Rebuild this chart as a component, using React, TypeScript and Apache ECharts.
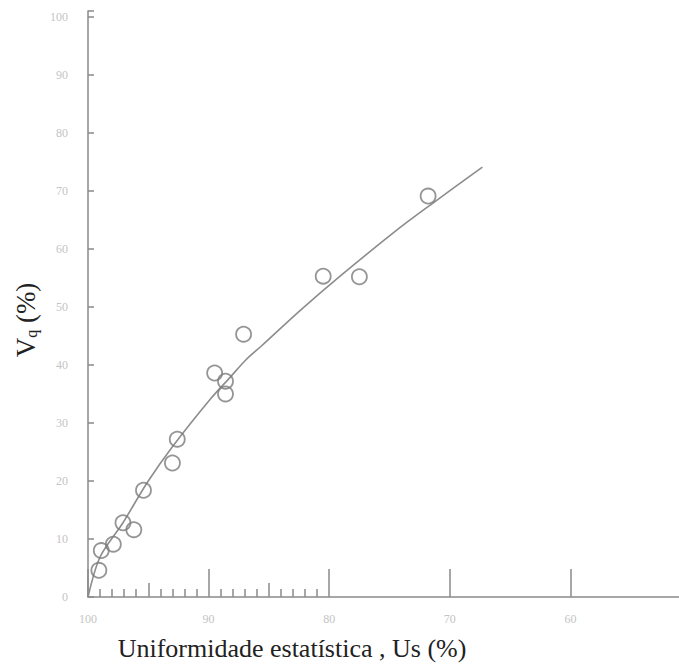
import React, { useEffect, useRef } from "react";
import * as echarts from "echarts";

// Uniformidade estatística (Us, %) -> x ; Vq (%) -> y
const pointUs = [99.1, 98.9, 97.9, 97.1, 96.2, 95.4, 93.0, 92.6, 89.5, 88.6, 88.6, 87.1, 80.5, 77.5, 71.8];
const pointVq = [4.6, 8.0, 9.1, 12.8, 11.6, 18.4, 23.1, 27.2, 38.6, 37.2, 35.0, 45.3, 55.3, 55.2, 69.1];

const curveUs = [100, 99.0, 97.1, 95.1, 93.0, 89.9, 88.2, 86.9, 85.6, 82.4, 79.1, 74.3, 71.4, 67.3];
const curveVq = [0, 6.9, 12.8, 19.7, 25.9, 34.0, 37.9, 40.9, 43.3, 49.4, 55.3, 63.4, 67.9, 74.1];

const xMajorTicks = [100, 90, 80, 70, 60];
const xMediumTicks = [95, 85];
const xMinorTicks = [99, 98, 97, 96, 94, 93, 92, 91, 89, 88, 87, 86, 84, 83, 82, 81];

const xTitle = "Uniformidade estatística , Us (%)";

export default function App() {
  const ref = useRef<HTMLDivElement>(null);
  useEffect(() => {
    document.body.style.margin = "0";
    const chart = echarts.init(ref.current!, null, { renderer: "svg" });
    const serif = "'Liberation Serif', 'DejaVu Serif', serif";
    const axisColor = "#8a8a8a";
    const labelColor = "#c4c4c4";
    const baseX = {
      type: "value",
      min: 51,
      max: 100,
      inverse: true,
      position: "bottom",
      splitLine: { show: false },
    };
    chart.setOption({
      animation: false,
      backgroundColor: "#ffffff",
      grid: { left: 88, right: 0, top: 11, bottom: 68 },
      xAxis: [
        {
          ...baseX,
          axisLine: { show: true, lineStyle: { color: axisColor, width: 1.5 } },
          axisTick: {
            show: true,
            inside: true,
            length: 28,
            customValues: xMajorTicks,
            lineStyle: { color: axisColor, width: 1.5 },
          },
          axisLabel: {
            show: true,
            customValues: xMajorTicks,
            color: labelColor,
            fontFamily: serif,
            fontSize: 12,
            margin: 16,
          },
        },
        {
          ...baseX,
          axisLine: { show: false },
          axisLabel: { show: false },
          axisTick: {
            show: true,
            inside: true,
            length: 14,
            customValues: xMediumTicks,
            lineStyle: { color: axisColor, width: 1.5 },
          },
        },
        {
          ...baseX,
          axisLine: { show: false },
          axisLabel: { show: false },
          axisTick: {
            show: true,
            inside: true,
            length: 8,
            customValues: xMinorTicks,
            lineStyle: { color: axisColor, width: 1.5 },
          },
        },
      ],
      yAxis: {
        type: "value",
        min: 0,
        max: 101,
        interval: 10,
        splitLine: { show: false },
        axisLine: { show: true, lineStyle: { color: axisColor, width: 1.5 } },
        axisTick: { show: true, inside: true, length: 6, lineStyle: { color: axisColor, width: 1.5 } },
        axisLabel: {
          color: labelColor,
          fontFamily: serif,
          fontSize: 12,
          margin: 20,
          formatter: (v: number) => (v % 10 === 0 ? String(v) : ""),
        },
      },
      graphic: [
        {
          type: "text",
          x: 292,
          y: 648,
          style: {
            text: xTitle,
            font: `26px ${serif}`,
            fill: "#222",
            align: "center",
            verticalAlign: "middle",
          },
        },
        {
          type: "text",
          x: 24,
          y: 320,
          rotation: Math.PI / 2,
          style: {
            text: "{v|V}{q|q}{v| (%)}",
            align: "center",
            verticalAlign: "middle",
            rich: {
              v: { fontSize: 27, fontFamily: serif, fill: "#222", verticalAlign: "bottom", lineHeight: 30 },
              q: { fontSize: 16, fontFamily: serif, fill: "#222", verticalAlign: "bottom", lineHeight: 22 },
            },
          },
        },
      ],
      series: [
        {
          type: "line",
          xAxisIndex: 0,
          data: curveUs.map((x, i) => [x, curveVq[i]]),
          showSymbol: false,
          smooth: 0.3,
          lineStyle: { color: "#8c8c8c", width: 1.6 },
          z: 2,
        },
        {
          type: "scatter",
          xAxisIndex: 0,
          data: pointUs.map((x, i) => [x, pointVq[i]]),
          symbol: "circle",
          symbolSize: 15,
          itemStyle: { color: "rgba(0,0,0,0)", borderColor: "#7a7a7a", borderWidth: 1.8 },
          z: 3,
        },
      ],
    });
    return () => chart.dispose();
  }, []);
  return <div ref={ref} style={{ width: 679, height: 665 }} />;
}
